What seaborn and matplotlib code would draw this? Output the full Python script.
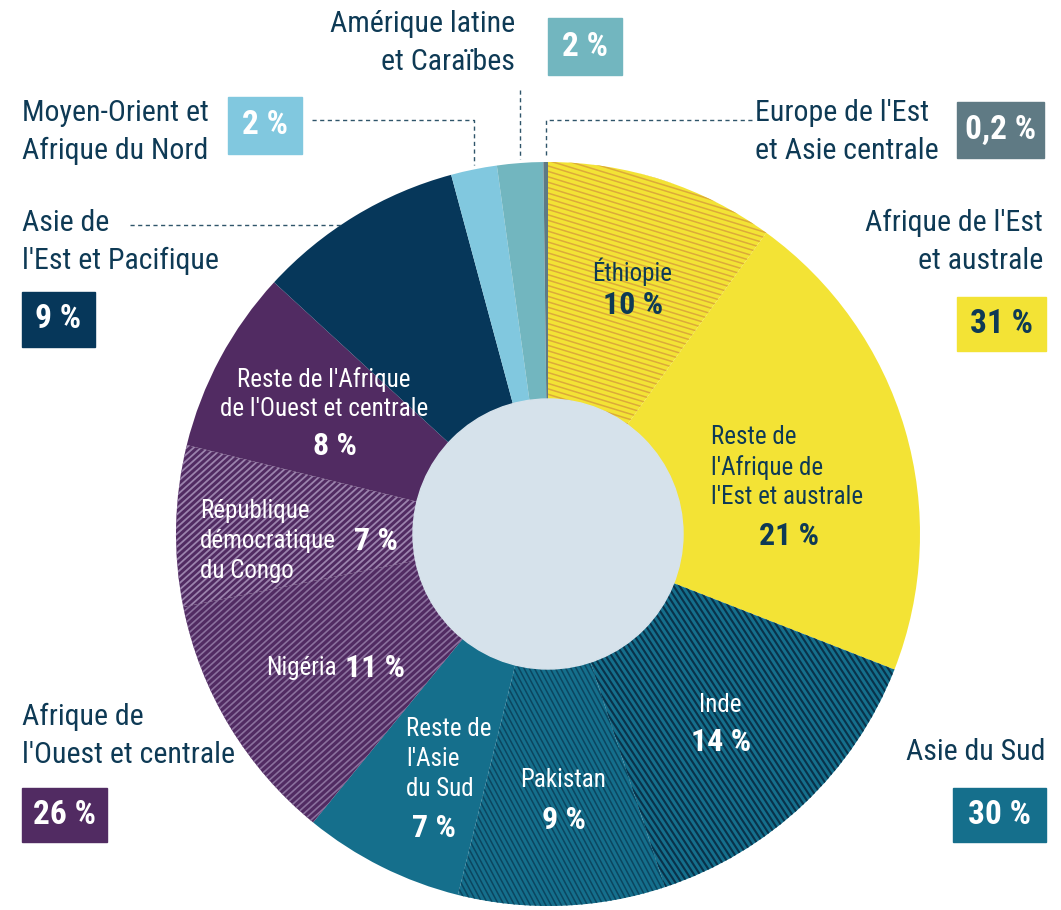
import numpy as np
import seaborn as sns
import matplotlib.pyplot as plt
from matplotlib.patches import Circle, Rectangle
from matplotlib.collections import LineCollection

# segments, clockwise from 12 o'clock
segments = ["Éthiopie", "Reste de l'Afrique de l'Est et australe", "Inde", "Pakistan",
            "Reste de l'Asie du Sud", "Nigéria", "République démocratique du Congo",
            "Reste de l'Afrique de l'Ouest et centrale", "Asie de l'Est et Pacifique",
            "Moyen-Orient et Afrique du Nord", "Amérique latine et Caraïbes",
            "Europe de l'Est et Asie centrale"]
parts = [10, 21, 14, 9, 7, 11, 7, 8, 9, 2, 2, 0.2]

regions = ["Afrique de l'Est\net australe", "Asie du Sud", "Afrique de\nl'Ouest et centrale",
           "Asie de\nl'Est et Pacifique", "Moyen-Orient et\nAfrique du Nord",
           "Amérique latine\net Caraïbes", "Europe de l'Est\net Asie centrale"]
region_pct = ["31 %", "30 %", "26 %", "9 %", "2 %", "2 %", "0,2 %"]

YEL, TEAL, PURP, NAVY = "#f3e335", "#156f8c", "#512b62", "#06375a"
LBLUE, LTEAL, GREY = "#81c8df", "#72b6bf", "#5f7a84"
DARK = "#0e3a55"
colors = sns.color_palette([YEL, YEL, TEAL, TEAL, TEAL, PURP, PURP, PURP, NAVY, LBLUE, LTEAL, GREY])

sns.set_theme(style="white")
plt.rcParams['font.family'] = ['Roboto Condensed', 'Liberation Sans Narrow', 'DejaVu Sans']

W, H = 1061, 910
fig = plt.figure(figsize=(W / 100, H / 100), dpi=100)
ax = fig.add_axes([0, 0, 1, 1])

cx, cy, R = 548, H - 534, 372
wedges, _ = ax.pie(parts, colors=colors, startangle=90, counterclock=False,
                   center=(cx, cy), radius=R, frame=True,
                   wedgeprops=dict(linewidth=0))
ax.set_xlim(0, W)
ax.set_ylim(0, H)
ax.axis("off")


def stripes(w, angle, spacing, color, lw):
    a = np.deg2rad(angle)
    d = np.array([np.cos(a), np.sin(a)])
    n = np.array([-d[1], d[0]])
    offs = np.arange(-1.5 * R, 1.5 * R, spacing)
    segs = [[(cx, cy) + n * o - d * 2 * R, (cx, cy) + n * o + d * 2 * R] for o in offs]
    lc = LineCollection(segs, colors=color, linewidths=lw, zorder=w.get_zorder() + 0.1)
    ax.add_collection(lc)
    lc.set_clip_path(w)


stripes(wedges[0], -17, 5.2, "#dcaa3a", 1.1)
stripes(wedges[2], -57, 5.0, "#09324a", 1.5)
stripes(wedges[3], -62, 4.6, "#0b4660", 1.1)
stripes(wedges[5], 42, 4.8, "#8a709d", 1.2)
stripes(wedges[6], 42, 4.8, "#9b83ad", 1.3)

ax.add_patch(Circle((cx, cy), 135, color="#d6e2eb", zorder=5))


def edge_point(w):
    mid = np.deg2rad((w.theta1 + w.theta2) / 2)
    return cx + R * np.cos(mid), cy + R * np.sin(mid)


lead = dict(color="#2f556a", lw=1.0, ls=(0, (3, 2.5)), zorder=1)
# Moyen-Orient
x, y = edge_point(wedges[9])
ax.plot([312, x, x], [H - 120, H - 120, y + 4], **lead)
# Amérique latine
x, y = edge_point(wedges[10])
ax.plot([x, x], [H - 90, y + 4], **lead)
# Europe de l'Est
x, y = edge_point(wedges[11])
ax.plot([752, x, x], [H - 120, H - 120, y + 4], **lead)
# Asie de l'Est
t = np.arccos((534 - 225) / R)
ax.plot([130, cx - R * np.sin(t)], [H - 225, H - 225], **lead)

fs_lab, fs_in, fs_b, fs_box = 21.5, 18, 23, 24
ls_out = 1.42

# outer region labels
ax.text(1043, H - 242, regions[0], ha="right", va="center", fontsize=fs_lab, color=DARK, linespacing=ls_out)
ax.text(1045, H - 752, regions[1], ha="right", va="center", fontsize=fs_lab, color=DARK)
ax.text(22, H - 736, regions[2], ha="left", va="center", fontsize=fs_lab, color=DARK, linespacing=ls_out)
ax.text(22, H - 242, regions[3], ha="left", va="center", fontsize=fs_lab, color=DARK, linespacing=ls_out)
ax.text(22, H - 132, regions[4], ha="left", va="center", fontsize=fs_lab, color=DARK, linespacing=ls_out)
ax.text(515, H - 43, regions[5], ha="right", va="center", fontsize=fs_lab, color=DARK, linespacing=ls_out)
ax.text(755, H - 132, regions[6], ha="left", va="center", fontsize=fs_lab, color=DARK, linespacing=ls_out)

boxes = [(957, 297, 89, 54, YEL, DARK), (953, 788, 93, 54, TEAL, "white"),
         (22, 788, 85, 54, PURP, "white"), (22, 292, 73, 55, NAVY, "white"),
         (228, 97, 74, 57, LBLUE, "white"), (548, 18, 74, 57, LTEAL, "white"),
         (957, 102, 87, 56, GREY, "white")]
for (bx, by, bw, bh, fc, tc), pct in zip(boxes, region_pct):
    ax.add_patch(Rectangle((bx, H - by - bh), bw, bh, color=fc, zorder=3))
    ax.text(bx + bw / 2, H - by - bh / 2, pct, ha="center", va="center",
            fontsize=fs_box, fontweight="bold", color=tc, zorder=4)

# labels inside the ring
def inner(x, y, name, pct, col, ha="center", px=None, py=None):
    ax.text(x, H - y, name, ha=ha, va="center", fontsize=fs_in, color=col,
            linespacing=1.3, zorder=6)
    ax.text(px, H - py, pct, ha="center", va="center", fontsize=fs_b,
            fontweight="bold", color=col, zorder=6)


inner(632, 272, "Éthiopie", f"{parts[0]:g} %", DARK, px=633, py=305)
inner(711, 467, "Reste de\nl'Afrique de\nl'Est et australe", f"{parts[1]:g} %", DARK,
      ha="left", px=789, py=536)
inner(720, 705, "Inde", f"{parts[2]:g} %", "white", px=721, py=742)
inner(563, 780, "Pakistan", f"{parts[3]:g} %", "white", px=564, py=820)
inner(406, 759, "Reste de\nl'Asie\ndu Sud", f"{parts[4]:g} %", "white", ha="left", px=434, py=828)
inner(337, 668, "Nigéria", f"{parts[5]:g} %", "white", ha="right", px=375, py=668)
inner(200, 541, "République\ndémocratique\ndu Congo", f"{parts[6]:g} %", "white",
      ha="left", px=376, py=541)
inner(324, 394, "Reste de l'Afrique\nde l'Ouest et centrale", f"{parts[7]:g} %", "white",
      px=335, py=446)

fig.savefig("out.png", dpi=100, facecolor="white")
